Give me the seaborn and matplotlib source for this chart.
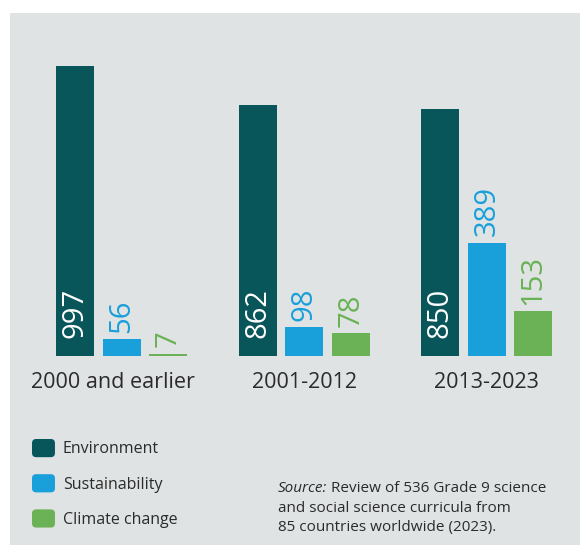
import matplotlib
matplotlib.use("Agg")
import matplotlib.pyplot as plt
import seaborn as sns
import pandas as pd
from matplotlib.patches import Rectangle, FancyBboxPatch, Patch
from matplotlib.legend_handler import HandlerPatch
from matplotlib.transforms import ScaledTranslation

# ---- data ----
periods = ["2000 and earlier", "2001-2012", "2013-2023"]
topics = ["Environment", "Sustainability", "Climate change"]
environment = [997, 862, 850]
sustainability = [56, 98, 389]
climate_change = [7, 78, 153]
source_lines = ["Review of 536 Grade 9 science",
                "and social science curricula from",
                "85 countries worldwide (2023)."]

colors = {"Environment": "#08565a", "Sustainability": "#199fda", "Climate change": "#6ab255"}
panel_color = "#dfe3e3"
text_color = "#2b2b2b"

sns.set_theme(style="white")
plt.rcParams["font.family"] = ["Open Sans", "DejaVu Sans"]

df = pd.DataFrame({
    "period": periods * 3,
    "topic": [t for t in topics for _ in periods],
    "count": environment + sustainability + climate_change,
})

W, H = 580, 545
fig = plt.figure(figsize=(W / 100, H / 100), dpi=100, facecolor="white")
fig.patches.append(Rectangle((10 / W, 0), 1 - 10 / W, 1 - 13 / H, transform=fig.transFigure,
                             facecolor=panel_color, edgecolor="none", zorder=-10))

ax = fig.add_axes([0, (H - 355.7) / H, 1, (355.7 - 13) / H])
ax.set_facecolor("none")
sns.barplot(data=df, x="period", y="count", hue="topic", hue_order=topics, order=periods,
            palette=colors, width=0.765, gap=0.184, saturation=1, legend=False,
            linewidth=0, edgecolor="none", ax=ax)
ax.set_xlim(-0.667, 2.511)
ax.set_ylim(0, 342.7 / 0.2905)
for s in ax.spines.values():
    s.set_visible(False)
ax.set_yticks([])
ax.set_xlabel("")
ax.set_ylabel("")
ax.tick_params(axis="x", length=0, pad=11.5, labelsize=15.5, labelcolor=text_color)

# shift first category label slightly left as in the reference
lbls = ax.get_xticklabels()
lbls[0].set_transform(lbls[0].get_transform() + ScaledTranslation(-9 / 100, 0, fig.dpi_scale_trans))

value_font = ["Liberation Sans Narrow", "Open Sans", "DejaVu Sans"]
for container, topic, vals in zip(ax.containers, topics, [environment, sustainability, climate_change]):
    for bar, v in zip(container, vals):
        xc = bar.get_x() + bar.get_width() / 2
        if topic == "Environment":
            ax.annotate(str(v), xy=(xc, 0), xytext=(0, 12.5), textcoords="offset points",
                        rotation=90, ha="center", va="bottom", color="white",
                        fontsize=21, family=value_font)
        else:
            ax.annotate(str(v), xy=(xc, bar.get_height()), xytext=(0, 4.5), textcoords="offset points",
                        rotation=90, ha="center", va="bottom", color=colors[topic],
                        fontsize=21, family=value_font)

# legend with rounded squares
def rounded(legend, orig_handle, xdescent, ydescent, width, height, fontsize):
    return FancyBboxPatch((-xdescent, -ydescent), width, height,
                          boxstyle="round,pad=0,rounding_size=3")

handles = [Patch(facecolor=colors[t], edgecolor="none") for t in topics]
fig.legend(handles, topics, loc="upper left", bbox_to_anchor=(32 / W, 1 - 439 / H),
           frameon=False, borderpad=0, borderaxespad=0, fontsize=11.5,
           handlelength=23 / 16, handleheight=22 / 16, handletextpad=0.5,
           labelspacing=1.05, labelcolor=text_color,
           handler_map={Patch: HandlerPatch(patch_func=rounded)})

# source note
fs = 11
x0 = 278 / W
baselines = [492, 511.5, 531]
t1 = fig.text(x0, 1 - baselines[0] / H, "Source:", style="italic", fontsize=fs,
              color=text_color, va="baseline", ha="left")
r = fig.canvas.get_renderer()
bb = t1.get_window_extent(r)
fig.text(bb.x1 / W + 4 / W, 1 - baselines[0] / H, source_lines[0], fontsize=fs,
         color=text_color, va="baseline", ha="left")
for line, b in zip(source_lines[1:], baselines[1:]):
    fig.text(x0, 1 - b / H, line, fontsize=fs, color=text_color, va="baseline", ha="left")

fig.savefig("out.png", dpi=100, facecolor="white")
